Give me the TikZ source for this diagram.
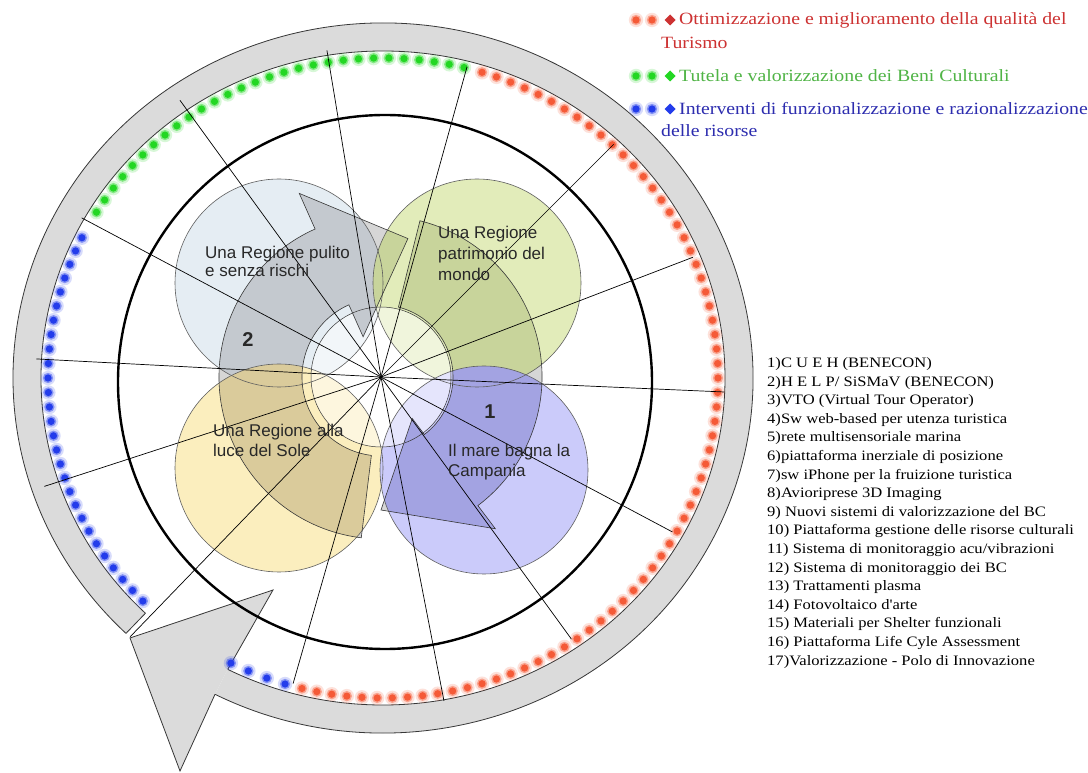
\documentclass[tikz,border=0pt]{standalone}
\usepackage{fontspec}
\setmainfont{Liberation Serif}
\newfontfamily\legfont[FakeStretch=1.15]{Liberation Serif}
\newfontfamily\lblfont{Liberation Sans}
\usetikzlibrary{calc}
\definecolor{ringfill}{RGB}{219,219,219}
\definecolor{edgec}{RGB}{55,55,55}
\definecolor{dred}{RGB}{245,90,55}
\definecolor{dgreen}{RGB}{35,215,35}
\definecolor{dblue}{RGB}{35,60,235}
\definecolor{tred}{RGB}{205,50,50}
\definecolor{tgreen}{RGB}{80,180,70}
\definecolor{tblue}{RGB}{45,45,175}
\definecolor{cpale}{RGB}{229,237,243}
\definecolor{colive}{RGB}{226,236,186}
\definecolor{cyel}{RGB}{251,238,190}
\definecolor{clav}{RGB}{203,203,250}
\definecolor{kpale}{RGB}{196,201,207}
\definecolor{kolive}{RGB}{200,212,155}
\definecolor{kyel}{RGB}{218,203,155}
\definecolor{klav}{RGB}{163,163,226}
\definecolor{arrowgray}{RGB}{214,214,214}
\definecolor{lbl}{RGB}{40,40,40}
\tikzset{
  ringedge/.style={draw=edgec, line width=0.8pt},
  bubble/.style={draw=edgec!80, line width=0.6pt},
  arrowline/.style={draw=edgec, line width=0.6pt},
  arrowone/.style={insert path={($(O)+(76:161)$) arc[start angle=76, end angle=-53, radius=161] -- ($(O)+(-53:190)$) -- ($(O)+(-90:133)$) -- ($(O)+(-53:52)$) -- ($(O)+(-53:72)$) arc[start angle=-53, end angle=76, radius=72] -- cycle}},
  arrowtwo/.style={insert path={($(O)+(263:162)$) arc[start angle=263, end angle=114, radius=162] -- ($(O)+(114:201)$) -- ($(O)+(79:141)$) -- ($(O)+(114:44)$) -- ($(O)+(114:79)$) arc[start angle=114, end angle=263, radius=79] -- cycle}},
  spoke/.style={draw=black, line width=0.7pt},
  legtext/.style={anchor=west, inner sep=0pt, font=\legfont\fontsize{17.2}{20}\selectfont},
  listtext/.style={anchor=west, inner sep=0pt, font=\legfont\fontsize{14.4}{18}\selectfont},
  lbltext/.style={anchor=west, inner sep=0pt, align=left, text=lbl},
  numtext/.style={inner sep=0pt, text=lbl, font=\lblfont\bfseries\fontsize{20}{20}\selectfont},
}
\newcommand\glowdot[2]{%
  \fill[#2, fill opacity=0.18] #1 circle (7.2);
  \fill[#2, fill opacity=0.45] #1 circle (5.2);
  \fill[#2] #1 circle (3.6);
}
\newcommand\tintarrows[2]{%
  \begin{scope}
    \clip #1 circle (104);
    \fill[#2] [arrowone];
    \fill[#2] [arrowtwo];
  \end{scope}
}
\begin{document}
\begin{tikzpicture}[x=1pt,y=1pt]
\useasboundingbox (0,0) rectangle (1088,772);
\fill[white] (0,0) rectangle (1088,772);
\coordinate (O) at (381,395);
\coordinate (C) at (385,390);
\coordinate (R) at (383,394);
% ring band (circular arrow)
\fill[ringfill] ($(R)+(226:370 and 355)$) arc[start angle=226, end angle=-117, x radius=370, y radius=355]
  -- ($(R)+(-117:342 and 327)$) arc[start angle=-117, end angle=226, x radius=342, y radius=327] -- cycle;
\draw[ringedge] ($(R)+(-117:370 and 355)$) arc[start angle=-117, end angle=226, x radius=370, y radius=355]
  -- ($(R)+(226:342 and 327)$) arc[start angle=226, end angle=-117, x radius=342, y radius=327];
\coordinate (hoa) at ($(R)+(-117:370 and 355)$);
\coordinate (hia) at ($(R)+(-117:342 and 327)$);
\coordinate (tip) at (180,1);
\coordinate (bo) at (130,134);
\coordinate (bi) at (273,182);
\fill[ringfill] (hoa) -- (tip) -- (bo) -- (bi) -- (hia) -- cycle;
\draw[ringedge] (hoa) -- (tip) -- (bo) -- (bi) -- (hia);
% dots
\foreach \a in {76,78.6,...,151} {\glowdot{($(R)+(\a:335 and 320)$)}{dgreen}}
\foreach \a in {-104,-101.4,...,73} {\glowdot{($(R)+(\a:335 and 320)$)}{dred}}
\foreach \a in {-117,-113.7,-110.3,-107} {\glowdot{($(R)+(\a:335 and 320)$)}{dblue}}
\foreach \a in {154,156.6,...,225} {\glowdot{($(R)+(\a:335 and 320)$)}{dblue}}
% thick circle
\draw[line width=2.4pt] (C) circle (267);
% arrows under the circles (visible outside them)
\fill[arrowgray] [arrowone];
\fill[arrowgray] [arrowtwo];
% four circles
\fill[cpale] (279,489) circle (104);
\fill[colive] (477,489) circle (104);
\fill[cyel] (279,304) circle (104);
\fill[clav] (484,302) circle (104);
% inner pale disk
\fill[white, fill opacity=0.5] (O) circle (70);
% darker arrow parts inside each circle
\tintarrows{(279,489)}{kpale}
\tintarrows{(477,489)}{kolive}
\tintarrows{(279,304)}{kyel}
\tintarrows{(484,302)}{klav}
% outlines
\draw[bubble] (279,489) circle (104);
\draw[bubble] (477,489) circle (104);
\draw[bubble] (279,304) circle (104);
\draw[bubble] (484,302) circle (104);
\draw[edgec, line width=0.5pt] (O) circle (70);
\path[arrowline] [arrowone];
\path[arrowline] [arrowtwo];
% spokes
\foreach \a/\l in {21/334,45/329,74.5/322,99.4/331,126/342,152/339,177/345,198/354,226/361,254/319,281/330,306/324,332/330,357.5/344}
  \draw[spoke] (O) -- ++(\a:\l);
% circle labels
\node[lbltext, font=\lblfont\fontsize{17}{18}\selectfont] (la) at (205,511) {Una Regione pulito\\e senza rischi};
\node[lbltext, font=\lblfont\fontsize{17}{21}\selectfont] (lb) at (438,519) {Una Regione\\patrimonio del\\mondo};
\node[lbltext, font=\lblfont\fontsize{17}{20}\selectfont] (lc) at (213,332) {Una Regione alla\\luce del Sole};
\node[lbltext, font=\lblfont\fontsize{17}{20}\selectfont] (ld) at (448,310) {Il mare bagna la\\Campania};
\node[numtext] (n2) at (248,432) {2};
\node[numtext] (n1) at (490,360) {1};
% legend bullets
\foreach \y/\c/\d in {752/dred/tred, 696/dgreen/dgreen, 663/dblue/dblue} {
  \glowdot{(636,\y)}{\c}
  \glowdot{(652,\y)}{\c}
  \fill[\d] (670,\y) +(0,5.5) -- +(5.5,0) -- +(0,-5.5) -- +(-5.5,0) -- cycle;
}
\node[legtext, text=tred] (l1) at (679,752) {Ottimizzazione e miglioramento della qualità del};
\node[legtext, text=tred] (l1b) at (661,729) {Turismo};
\node[legtext, text=tgreen] (l2) at (679,696) {Tutela e valorizzazione dei Beni Culturali};
\node[legtext, text=tblue] (l3) at (679,663) {Interventi di funzionalizzazione e razionalizzazione};
\node[legtext, text=tblue] (l3b) at (661,641) {delle risorse};
% list
\foreach \i/\t in {1/{1)C U E H (BENECON)},
  2/{2)H E L P/ SiSMaV (BENECON)},
  3/{3)VTO (Virtual Tour Operator)},
  4/{4)Sw web-based per utenza turistica},
  5/{5)rete multisensoriale marina},
  6/{6)piattaforma inerziale di posizione},
  7/{7)sw iPhone per la fruizione turistica},
  8/{8)Avioriprese 3D Imaging},
  9/{9) Nuovi sistemi di valorizzazione del BC},
  10/{10) Piattaforma gestione delle risorse culturali},
  11/{11) Sistema di monitoraggio acu/vibrazioni},
  12/{12) Sistema di monitoraggio dei BC},
  13/{13) Trattamenti plasma},
  14/{14) Fotovoltaico d'arte},
  15/{15) Materiali per Shelter funzionali},
  16/{16) Piattaforma Life Cyle Assessment},
  17/{17)Valorizzazione - Polo di Innovazione}}
  \node[listtext] (it\i) at (767,{408-18.6*(\i-1)}) {\t};
\end{tikzpicture}
\end{document}
